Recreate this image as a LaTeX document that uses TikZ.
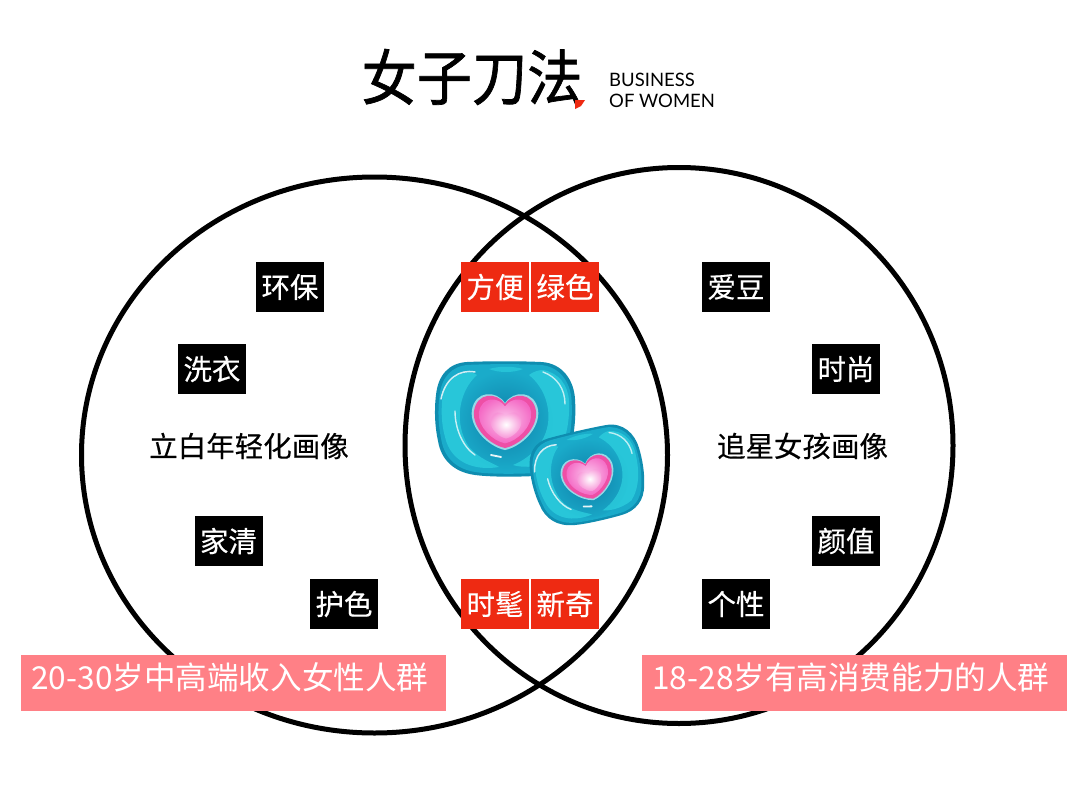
\documentclass[tikz,border=0pt]{standalone}
\usepackage{fontspec}
\setmainfont{Noto Sans CJK SC}
\newfontfamily\heavycjk{Noto Sans CJK SC}[FakeBold=0.35]
\newfontfamily\logocjk{Noto Sans CJK SC}[FakeBold=1.2]
\newfontfamily\latinfont{Lato}
\definecolor{redbox}{HTML}{EE2A12}
\definecolor{pinkbox}{HTML}{FF8086}
\definecolor{podedge}{HTML}{0F8DB0}
\definecolor{podbody}{HTML}{1AABCA}
\definecolor{podlight}{HTML}{30D6E2}
\definecolor{poddark}{HTML}{0F7FA8}
\definecolor{heartrim}{HTML}{EE4FA6}
\definecolor{heartbody}{HTML}{F468C4}
\definecolor{heartcore}{HTML}{FBC8EE}
\newcommand{\heartshape}{(0,-15) .. controls (-8,-27) and (-28,-27) .. (-31,-8) .. controls (-33,9) and (-15,26) .. (0,29) .. controls (15,26) and (33,9) .. (31,-8) .. controls (28,-27) and (8,-27) .. (0,-15) -- cycle}
\newcommand{\podshape}{(-38,-57) .. controls (-15,-58) and (15,-58) .. (36,-57) .. controls (58,-56) and (69,-38) .. (70,-20) .. controls (71,-5) and (70,12) .. (66,26) .. controls (62,46) and (48,56) .. (30,57) .. controls (10,58) and (-15,58) .. (-30,56) .. controls (-52,53) and (-64,40) .. (-67,22) .. controls (-70,8) and (-71,-8) .. (-69,-24) .. controls (-67,-44) and (-56,-56) .. (-38,-57) -- cycle}
\newcommand{\drawpod}{%
  \fill[podedge] \podshape;
  \fill[podbody, scale=.95] \podshape;
  \shade[inner color=poddark, outer color=podbody] (0,2) circle [radius=50];
  \fill[podlight, opacity=.65] (-62,-26) .. controls (-54,-46) and (-36,-50) .. (-28,-44) .. controls (-46,-28) and (-52,4) .. (-36,28) .. controls (-26,40) and (-12,44) .. (-6,48) .. controls (-30,52) and (-54,44) .. (-60,18) .. controls (-64,4) and (-64,-12) .. (-62,-26) -- cycle;
  \fill[podlight, opacity=.65] (38,-49) .. controls (54,-46) and (63,-34) .. (64,-18) .. controls (65,6) and (60,28) .. (46,42) .. controls (30,50) and (14,48) .. (8,46) .. controls (28,38) and (47,18) .. (43,-10) .. controls (41,-24) and (34,-36) .. (24,-44) .. controls (28,-47) and (33,-49) .. (38,-49) -- cycle;
  \fill[podlight, opacity=.55] (-16,-50) .. controls (-6,-46) and (8,-46) .. (18,-50) .. controls (8,-53) and (-6,-53) .. (-16,-50) -- cycle;
  \draw[white, line width=1.5pt, line cap=round, opacity=.8] (-64,-20) .. controls (-60,-40) and (-46,-50) .. (-30,-47);
  \draw[white, line width=1.4pt, line cap=round, opacity=.75] (-50,-8) .. controls (-50,10) and (-42,28) .. (-30,36);
  \draw[white, line width=1.4pt, line cap=round, opacity=.7] (38,-47) .. controls (52,-42) and (60,-30) .. (60,-15);
  \draw[white, line width=1.8pt, line cap=round, opacity=.9] (-14,36) -- (-4,38);
  \fill[white!55!podbody, scale=1.07] \heartshape;
  \fill[heartrim] \heartshape;
  \shade[inner color=heartcore, outer color=heartbody, scale=.84] \heartshape;
  \shade[inner color=white, outer color=heartbody!55!heartcore, shift={(1,5)}, scale=.5] \heartshape;
}
\tikzset{
  tagbox/.style={minimum width=68pt, minimum height=50pt, inner sep=0pt, text=white, font=\heavycjk\fontsize{28.5}{30}\selectfont},
  blacktag/.style={tagbox, fill=black},
  redtag/.style={tagbox, fill=redbox},
  pinktag/.style={minimum width=425pt, minimum height=56pt, inner sep=0pt, fill=pinkbox, text=white, font=\fontsize{31.6}{34}\selectfont},
  caption/.style={inner sep=0pt, text=black, font=\heavycjk\fontsize{28.5}{30}\selectfont},
  venn/.style={draw=black, line width=5pt},
}
\newcommand{\pinktext}[1]{\raisebox{-6pt}[0pt][0pt]{#1}\kern7pt}
\begin{document}
\begin{tikzpicture}[x=1pt,y=-1pt]
\useasboundingbox (0,0) rectangle (1080,787);
\fill[white] (0,0) rectangle (1080,787);
% Venn ellipses
\draw[venn] (374.5,455) ellipse [x radius=293, y radius=278];
\draw[venn] (679,445.5) ellipse [x radius=274, y radius=278];
% logo
\node[inner sep=0pt, xscale=.92, text=black, font=\logocjk\fontsize{60}{62}\selectfont] (logo) at (472,77) {女子刀法};
\fill[redbox] (575,100) -- (585,100) -- (581,106) -- (575,109) -- cycle;
\node[inner sep=0pt, anchor=west, text=black, font=\latinfont\fontsize{18.5}{20}\selectfont] (bus) at (609,80) {BUSINESS};
\node[inner sep=0pt, anchor=west, text=black, font=\latinfont\fontsize{18.5}{20}\selectfont] (ofw) at (609,101) {OF WOMEN};
% pods
\begin{scope}[shift={(505,419)}]\drawpod\end{scope}
\begin{scope}[shift={(588,476)}, rotate=13, scale=.8]\drawpod\end{scope}
% black tags
\node[blacktag] (a1) at (290,287) {\raisebox{-1pt}{环保}};
\node[blacktag] (a2) at (212,369) {\raisebox{-1pt}{洗衣}};
\node[blacktag] (a3) at (228.5,541) {\raisebox{-1pt}{家清}};
\node[blacktag] (a4) at (344,604) {\raisebox{-1pt}{护色}};
\node[blacktag] (b1) at (736,287) {\raisebox{-1pt}{爱豆}};
\node[blacktag] (b2) at (846,369) {\raisebox{-1pt}{时尚}};
\node[blacktag] (b3) at (846,541) {\raisebox{-1pt}{颜值}};
\node[blacktag] (b4) at (736,604) {\raisebox{-1pt}{个性}};
% red tags
\node[redtag] (c1) at (495,287) {\raisebox{-1pt}{方便}};
\node[redtag] (c2) at (565,287) {\raisebox{-1pt}{绿色}};
\node[redtag] (c3) at (495,604) {\raisebox{-1pt}{时髦}};
\node[redtag] (c4) at (565,604) {\raisebox{-1pt}{新奇}};
% captions
\node[caption] (l) at (249,446) {立白年轻化画像};
\node[caption] (r) at (802.5,446) {追星女孩画像};
% pink tags
\node[pinktag] (p1) at (233.5,683) {\pinktext{20-30岁中高端收入女性人群}};
\node[pinktag] (p2) at (854.5,683) {\pinktext{18-28岁有高消费能力的人群}};
\end{tikzpicture}
\end{document}
